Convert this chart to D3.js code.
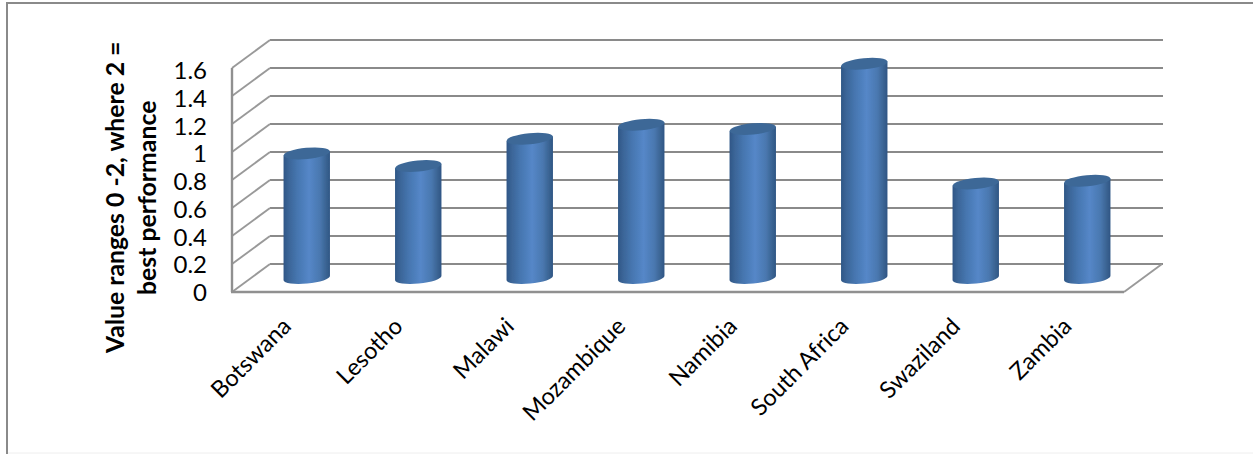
<!DOCTYPE html>
<html><head><meta charset="utf-8">
<script src="https://cdn.jsdelivr.net/npm/d3@7"></script>
<style>html,body{margin:0;padding:0;background:#fff}svg{display:block}text{font-family:Lato,"Noto Sans",sans-serif;fill:#000}</style>
</head><body><div id="c"></div>
<script>
const categories=["Botswana","Lesotho","Malawi","Mozambique","Namibia","South Africa","Swaziland","Zambia"];
const values=[0.89,0.80,0.995,1.095,1.065,1.53,0.675,0.695];
const tickValues=[0,0.2,0.4,0.6,0.8,1,1.2,1.4,1.6];
const titleLines=["Value ranges 0 -2, where 2 =","best performance"];

const W=1253,H=454,depthX=38,depthY=28,rx=23.2,ry=5.6,tilt=-5.5;
const svg=d3.select("#c").append("svg").attr("width",W).attr("height",H);
const x=d3.scaleBand().domain(categories).range([232,1124]);
const y=d3.scaleLinear().domain([0,1.6]).range([292,68]);
const yLabel=d3.scaleLinear().domain([0,1.6]).range([292,70]);

const grad=svg.append("defs").append("linearGradient").attr("id","cyl");
[[0,"#2f5686"],[.1,"#3a6496"],[.3,"#4676b0"],[.55,"#5587c8"],[.78,"#4a78b0"],[.92,"#3a6392"],[1,"#2f5584"]]
 .forEach(s=>grad.append("stop").attr("offset",s[0]).attr("stop-color",s[1]));
svg.select("defs").append("filter").attr("id","soft").attr("filterUnits","userSpaceOnUse")
 .attr("x",0).attr("y",0).attr("width",W).attr("height",H).append("feGaussianBlur").attr("stdDeviation",0.4);

// frame
const frame=svg.append("g").attr("stroke","#8a8a8a").attr("fill","none");
frame.append("line").attr("x1",6).attr("x2",W).attr("y1",3).attr("y2",3).attr("stroke-width",2);
frame.append("line").attr("x1",7).attr("x2",7).attr("y1",3).attr("y2",H).attr("stroke-width",2);
frame.append("line").attr("x1",8).attr("x2",W).attr("y1",453).attr("y2",453).attr("stroke","#eeeeee");

// walls and floor
const wall=svg.append("g").attr("fill","none").attr("filter","url(#soft)");
const [x0,x1]=x.range();
wall.selectAll("line.g").data(tickValues).join("line").attr("class","g")
 .attr("x1",x0+depthX).attr("x2",x1+depthX+1)
 .attr("y1",d=>y(d)-depthY).attr("y2",d=>y(d)-depthY)
 .attr("stroke","#8a8a8a").attr("stroke-width",2.2);
wall.selectAll("line.s").data(tickValues).join("line").attr("class","s")
 .attr("x1",x0).attr("x2",x0+depthX)
 .attr("y1",d=>y(d)).attr("y2",d=>y(d)-depthY)
 .attr("stroke","#999999").attr("stroke-width",1.9);
wall.append("line").attr("x1",x1).attr("x2",x1+depthX).attr("y1",y(0)).attr("y2",y(0)-depthY)
 .attr("stroke","#999999").attr("stroke-width",1.9);
wall.append("line").attr("x1",x0-1).attr("x2",x1).attr("y1",y(0)).attr("y2",y(0)).attr("stroke","#909090").attr("stroke-width",2.4);
wall.append("line").attr("x1",x0).attr("x2",x0).attr("y1",y(1.6)).attr("y2",y(0)).attr("stroke","#909090").attr("stroke-width",2.4);

// cylinders
const bars=svg.append("g").attr("filter","url(#soft)").selectAll("g").data(categories.map((c,i)=>({c,v:values[i]}))).join("g")
 .attr("transform",d=>`translate(${x(d.c)+x.bandwidth()/2+depthX/2},${-depthY/2})`);
const dy=rx*Math.sin(-tilt*Math.PI/180);
bars.append("path").attr("fill","url(#cyl)")
 .attr("d",d=>`M${-rx},${y(d.v)+dy} L${-rx},${y(0)+dy} A${rx},${ry} ${tilt} 0 0 ${rx},${y(0)-dy} L${rx},${y(d.v)-dy} Z`);
bars.append("ellipse").attr("rx",rx).attr("ry",ry).attr("fill","#3c6897")
 .attr("transform",d=>`translate(0,${y(d.v)}) rotate(${tilt})`);

// axes
const yAxis=svg.append("g").attr("transform","translate(207,0)")
 .call(d3.axisLeft(yLabel).tickValues(tickValues).tickSize(0).tickPadding(0).tickFormat(d3.format("")));
yAxis.select(".domain").remove();
yAxis.selectAll("text").attr("font-size",24).attr("dy","0.36em").style("font-family","Lato").attr("x",0);

const xAxis=svg.append("g").attr("transform","translate(0,292)")
 .call(d3.axisBottom(x).tickSize(0).tickPadding(0));
xAxis.select(".domain").remove();
xAxis.selectAll("text").attr("font-size",23.5).attr("text-anchor","end")
 .attr("transform","translate(-1,30) rotate(-45)").attr("x",0).attr("y",0).attr("dy","0.35em");

// axis title
const title=svg.append("g");
titleLines.forEach((t,i)=>title.append("text")
 .attr("transform",`translate(${118+i*32},${i?295:353}) rotate(-90)`)
 .attr("dominant-baseline","middle")
 .attr("text-anchor","start").attr("font-size",24.8).attr("font-weight",700).text(t));
</script></body></html>
